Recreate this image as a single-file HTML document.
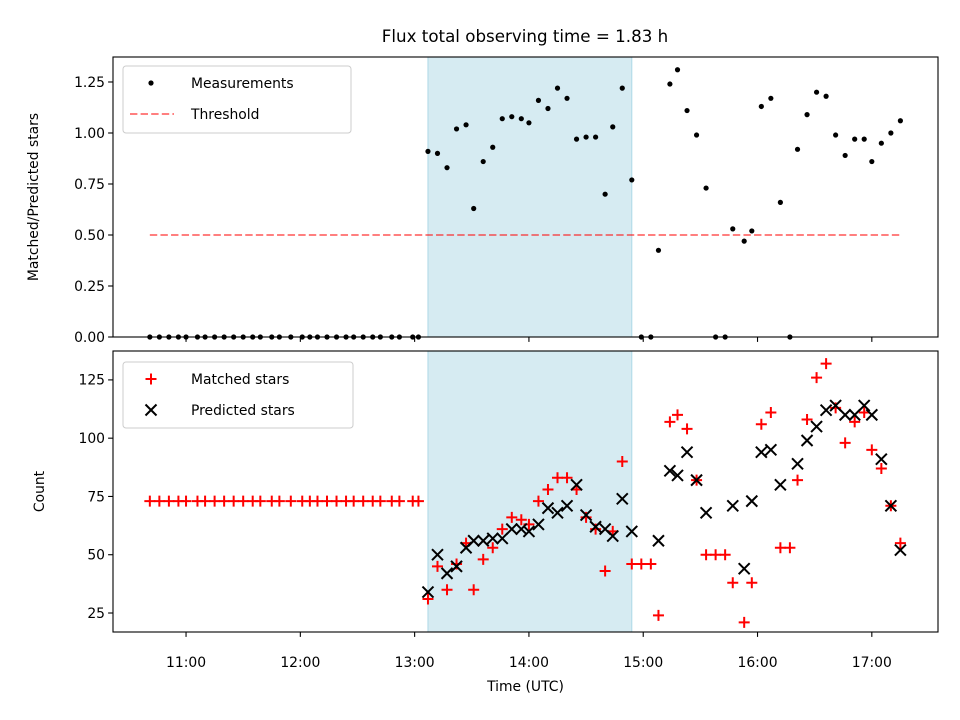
<!DOCTYPE html>
<html><head><meta charset="utf-8">
<style>
html,body{margin:0;padding:0;background:#fff;}
svg{display:block;font-family:"DejaVu Sans","Liberation Sans",sans-serif;}
</style></head>
<body>
<svg id="chart" width="960" height="720" viewBox="0 0 960 720" xmlns="http://www.w3.org/2000/svg"></svg>
<script>
const times = ["10:41","10:46","10:51","10:56","11:00","11:06","11:10","11:15","11:20","11:25",
"11:30","11:35","11:39","11:45","11:49","11:55","12:01","12:05","12:09","12:14",
"12:19","12:24","12:28","12:33","12:38","12:42","12:48","12:52","12:59","13:02",
"13:07","13:12","13:17","13:22","13:27","13:31","13:36","13:41","13:46","13:51",
"13:56","14:00","14:05","14:10","14:15","14:20","14:25","14:30","14:35","14:40",
"14:44","14:49","14:54","14:59","15:04","15:08","15:14","15:18","15:23","15:28",
"15:33","15:38","15:43","15:47","15:53","15:57","16:02","16:07","16:12","16:17",
"16:21","16:26","16:31","16:36","16:41","16:46","16:51","16:56","17:00","17:05",
"17:10","17:15"];
const ratio = [0,0,0,0,0,0,0,0,0,0,0,0,0,0,0,0,0,0,0,0,0,0,0,0,0,0,0,0,0,0,
0.91,0.90,0.83,1.02,1.04,0.63,0.86,0.93,1.07,1.08,
1.07,1.05,1.16,1.12,1.22,1.17,0.97,0.98,0.98,0.70,
1.03,1.22,0.77,0,0,0.425,1.24,1.31,1.11,0.99,
0.73,0,0,0.53,0.47,0.52,1.13,1.17,0.66,0,
0.92,1.09,1.20,1.18,0.99,0.89,0.97,0.97,0.86,0.95,
1.00,1.06];
const matched = [73,73,73,73,73,73,73,73,73,73,73,73,73,73,73,73,73,73,73,73,73,73,73,73,73,73,73,73,73,73,
31,45,35,46,55,35,48,53,61,66,
65,63,73,78,83,83,78,66,61,43,
60,90,46,46,46,24,107,110,104,82,
50,50,50,38,21,38,106,111,53,53,
82,108,126,132,113,98,107,111,95,87,
71,55];
const predicted = [null,null,null,null,null,null,null,null,null,null,null,null,null,null,null,null,null,null,null,null,null,null,null,null,null,null,null,null,null,null,
34,50,42,45,53,56,56,57,57,61,
61,60,63,70,68,71,80,67,62,61,
58,74,60,null,null,56,86,84,94,82,
68,null,null,71,44,73,94,95,80,null,
89,99,105,112,114,110,110,114,110,91,
71,52];
const threshold = 0.5;
const shadeStart = "13:07", shadeEnd = "14:54";
const xTicks = ["11:00","12:00","13:00","14:00","15:00","16:00","17:00"];
const yTicksTop = [0,0.25,0.5,0.75,1.0,1.25];
const yTicksBot = [25,50,75,100,125];

const NS="http://www.w3.org/2000/svg";
const svg=document.getElementById('chart');
function el(tag,attrs,parent){const e=document.createElementNS(NS,tag);for(const k in attrs)e.setAttribute(k,attrs[k]);(parent||svg).appendChild(e);return e;}
function hrs(t){const p=t.split(':');return +p[0]+(+p[1])/60;}
const L=113,R=938;
const xMin=10.361,xMax=17.579;
function X(t){return L+(hrs(t)-xMin)/(xMax-xMin)*(R-L);}
const T1=57,B1=337,yMin1=0,yMax1=1.3725;
function Y1(v){return B1-(v-yMin1)/(yMax1-yMin1)*(B1-T1);}
const T2=351,B2=632,yMin2=16.85,yMax2=137.4;
function Y2(v){return B2-(v-yMin2)/(yMax2-yMin2)*(B2-T2);}

let t=el('text',{x:525,y:42,'text-anchor':'middle','font-size':'16.7px',fill:'#000'});t.textContent='Flux total observing time = 1.83 h';



function panel(T,B,Y,yt,fmt,name){
  const g=el('g',{});
  
  
  const sh=el('rect',{x:X(shadeStart),y:T,width:X(shadeEnd)-X(shadeStart),height:B-T,fill:'#add8e6','fill-opacity':0.5,stroke:'#add8e6','stroke-width':1},g);
  
  
  xTicks.forEach(v=>{el('line',{x1:X(v),x2:X(v),y1:B,y2:B+4.9,stroke:'#000','stroke-width':1.1},g);});
  yt.forEach(v=>{
    el('line',{x1:L,x2:L-4.9,y1:Y(v),y2:Y(v),stroke:'#000','stroke-width':1.1},g);
    const tx=el('text',{x:L-8,y:Y(v)+4.8,'text-anchor':'end','font-size':'13.9px'},g);tx.textContent=fmt(v);
    
    
  });
  return g;
}
const g1=panel(T1,B1,Y1,yTicksTop,v=>v.toFixed(2),'ratio-panel');
const th=el('line',{x1:X(times[0]),x2:X(times[times.length-1]),y1:Y1(threshold),y2:Y1(threshold),stroke:'#ff0000','stroke-opacity':0.5,'stroke-width':2,'stroke-dasharray':'7.4,3.2'},g1);


ratio.forEach((v,i)=>{
  const c=el('circle',{cx:X(times[i]),cy:Y1(v),r:2.6,fill:'#000'},g1);
  
  
});
el('rect',{x:L,y:T1,width:R-L,height:B1-T1,fill:'none',stroke:'#000','stroke-width':1.1},g1);
let yl=el('text',{x:0,y:0,'text-anchor':'middle','font-size':'13.9px',transform:`translate(38,${(T1+B1)/2}) rotate(-90)`});yl.textContent='Matched/Predicted stars';



const g2=panel(T2,B2,Y2,yTicksBot,v=>String(v),'count-panel');
matched.forEach((v,i)=>{
  const x=X(times[i]),y=Y2(v);
  const p=el('path',{d:`M${x-5.5},${y}H${x+5.5}M${x},${y-5.5}V${y+5.5}`,stroke:'#ff0000','stroke-width':2},g2);
  
  
});
predicted.forEach((v,i)=>{
  if(v===null)return;
  const x=X(times[i]),y=Y2(v);
  const p=el('path',{d:`M${x-5.5},${y-5.5}L${x+5.5},${y+5.5}M${x-5.5},${y+5.5}L${x+5.5},${y-5.5}`,stroke:'#000','stroke-width':2},g2);
  
  
});
el('rect',{x:L,y:T2,width:R-L,height:B2-T2,fill:'none',stroke:'#000','stroke-width':1.1},g2);
xTicks.forEach(v=>{
  const tx=el('text',{x:X(v),y:B2+35,'text-anchor':'middle','font-size':'13.9px'});tx.textContent=v;
  
  
});
yl=el('text',{x:0,y:0,'text-anchor':'middle','font-size':'13.9px',transform:`translate(44,${(T2+B2)/2}) rotate(-90)`});yl.textContent='Count';


let xl=el('text',{x:(L+R)/2,y:691,'text-anchor':'middle','font-size':'13.9px'});xl.textContent='Time (UTC)';



function legend(x,y,w,h,entries,name){
  const g=el('g',{});
  
  
  el('rect',{x:x,y:y,width:w,height:h,rx:3,fill:'#fff','fill-opacity':0.8,stroke:'#ccc','stroke-width':1},g);
  entries.forEach((e,i)=>{
    const cy=y+17+i*31;
    const eg=el('g',{},g);
    
    
    e.draw(eg,x+11,cy);
    const tx=el('text',{x:x+68,y:cy+5,'font-size':'13.9px'},eg);tx.textContent=e.label;
  });
}
legend(123,66,228,67,[
  {label:'Measurements',draw:(g,x,y)=>el('circle',{cx:x+17,cy:y,r:2.6,fill:'#000'},g)},
  {label:'Threshold',draw:(g,x,y)=>el('line',{x1:x-4,x2:x+40,y1:y,y2:y,stroke:'#ff0000','stroke-opacity':0.5,'stroke-width':2,'stroke-dasharray':'7.4,3.2'},g)}
],'legend-top');
legend(123,362,230,66,[
  {label:'Matched stars',draw:(g,x,y)=>el('path',{d:`M${x+17-5.5},${y}H${x+22.5}M${x+17},${y-5.5}V${y+5.5}`,stroke:'#ff0000','stroke-width':2},g)},
  {label:'Predicted stars',draw:(g,x,y)=>el('path',{d:`M${x+11.5},${y-5.5}L${x+22.5},${y+5.5}M${x+11.5},${y+5.5}L${x+22.5},${y-5.5}`,stroke:'#000','stroke-width':2},g)}
],'legend-bottom');
</script>
</body></html>
